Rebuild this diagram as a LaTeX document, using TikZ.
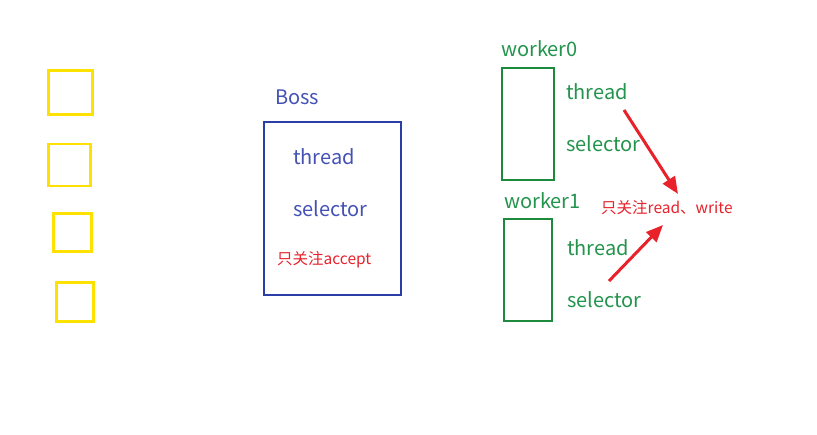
\documentclass[tikz,border=0pt]{standalone}
\usepackage{fontspec}
\setmainfont{Noto Sans CJK SC}
\usetikzlibrary{arrows.meta}
\definecolor{yel}{HTML}{FFE100}
\definecolor{bossline}{HTML}{2B3DA6}
\definecolor{bosstext}{HTML}{4352B4}
\definecolor{grnline}{HTML}{1E8A3E}
\definecolor{grntext}{HTML}{23944C}
\definecolor{redc}{HTML}{E8212B}
\tikzset{
  ybox/.style={draw=yel,line width=2.6pt,inner sep=0pt,minimum width=42pt,minimum height=42pt},
  lbl/.style={anchor=west,inner sep=0pt,font=\fontsize{20}{24}\selectfont},
  bosslbl/.style={lbl,text=bosstext},
  grnlbl/.style={lbl,text=grntext},
  redlbl/.style={anchor=west,inner sep=0pt,text=redc,font=\fontsize{15.5}{18}\selectfont},
  redarrow/.style={draw=redc,line width=3pt,-{Triangle[length=17pt,width=14pt]}}
}
\begin{document}
\begin{tikzpicture}[x=1pt,y=-1pt]
\useasboundingbox[fill=white] (0,0) rectangle (817,434);
% yellow boxes
\node[ybox,minimum width=44pt,minimum height=44pt] (y1) at (70.5,92.5) {};
\node[ybox,minimum width=42pt,minimum height=42pt] (y2) at (69.5,165) {};
\node[ybox,minimum width=38pt,minimum height=38pt] (y3) at (72.5,232.5) {};
\node[ybox,minimum width=37pt,minimum height=39pt] (y4) at (75,302) {};
% boss
\node[draw=bossline,line width=2pt,inner sep=0pt,minimum width=137pt,minimum height=173pt] (boss) at (332.5,208.5) {};
\node[bosslbl] (bossname) at (275,97) {Boss};
\node[bosslbl] (bthread) at (293,157) {thread};
\node[bosslbl] (bselector) at (293,209) {selector};
\node[redlbl] (baccept) at (277,260) {只关注accept};
% worker0
\node[grnlbl] (w0name) at (501,49) {worker0};
\node[draw=grnline,line width=2.2pt,inner sep=0pt,minimum width=52pt,minimum height=112pt] (w0) at (528,124) {};
\node[grnlbl] (w0thread) at (566,92) {thread};
\node[grnlbl] (w0selector) at (566,144) {selector};
% worker1
\node[grnlbl] (w1name) at (504,201) {worker1};
\node[draw=grnline,line width=2.2pt,inner sep=0pt,minimum width=48pt,minimum height=102pt] (w1) at (528,270) {};
\node[grnlbl] (w1thread) at (567,248) {thread};
\node[grnlbl] (w1selector) at (567,300) {selector};
% red label and arrows
\node[redlbl] (rw) at (601,208) {只关注read、write};
\coordinate (a1s) at (624,110);
\coordinate (a1e) at (678,194);
\coordinate (a2s) at (609,281);
\coordinate (a2e) at (663,225);
\draw[redarrow] (a1s) -- (a1e);
\draw[redarrow] (a2s) -- (a2e);
\end{tikzpicture}
\end{document}
